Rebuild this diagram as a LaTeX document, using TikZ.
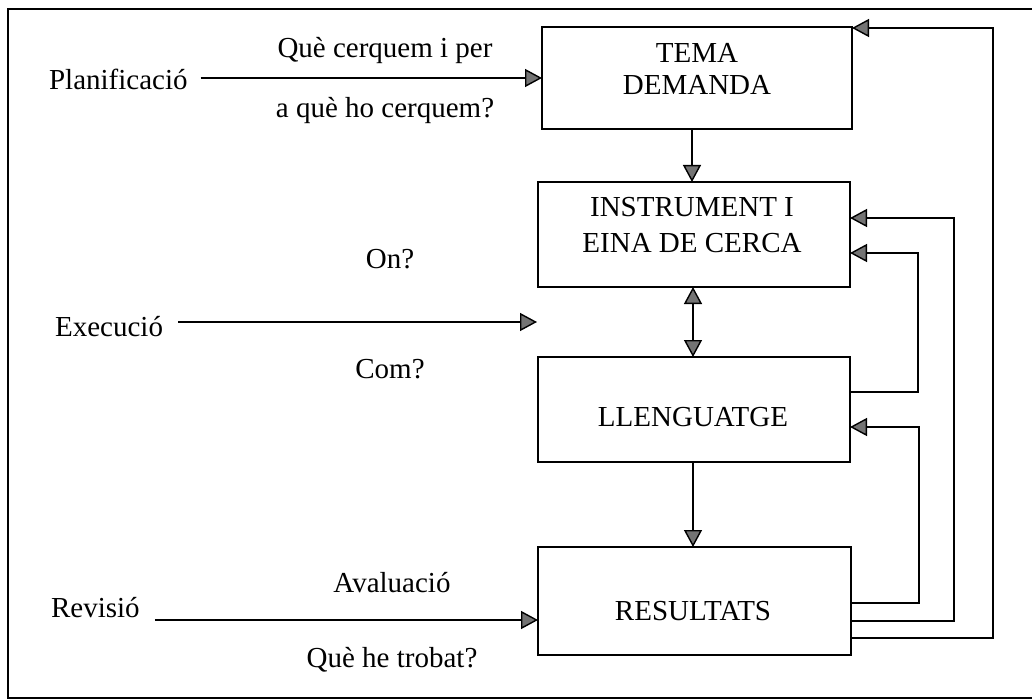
\documentclass[tikz,border=0pt]{standalone}
\usepackage{fontspec}
\setmainfont{Liberation Serif}
\usetikzlibrary{arrows.meta}
\definecolor{tipgray}{gray}{0.45}
\begin{document}
\begin{tikzpicture}[x=1pt,y=-1pt,line width=2.2pt,
  boxnode/.style={draw,inner sep=0pt,outer sep=0pt,line width=2.2pt},
  lab/.style={inner sep=0pt,anchor=base,font=\fontsize{29}{32}\selectfont},
  tip/.style={Triangle[length=17pt,width=18pt,fill=tipgray,line width=1.4pt]},
  arr/.style={-{Triangle[length=17pt,width=18pt,fill=tipgray,line width=1.4pt]}},
  darr/.style={{Triangle[length=17pt,width=18pt,fill=tipgray,line width=1.4pt]}-{Triangle[length=17pt,width=18pt,fill=tipgray,line width=1.4pt]}}]
\useasboundingbox (0,0) rectangle (1032,700);
\draw (1032,9) -- (8,9) -- (8,698) -- (1032,698);
% boxes
\node[boxnode,minimum width=310pt,minimum height=102pt] (tema) at (697,78) {};
\node[boxnode,minimum width=312pt,minimum height=105pt] (instr) at (694,234.5) {};
\node[boxnode,minimum width=312pt,minimum height=105pt] (lleng) at (694,409.5) {};
\node[boxnode,minimum width=313pt,minimum height=108pt] (result) at (694.5,601) {};
% box texts
\node[lab] (t1) at (697,63) {TEMA};
\node[lab] (t2) at (697,95) {DEMANDA};
\node[lab] (i1) at (692,217) {INSTRUMENT I};
\node[lab] (i2) at (692,253) {EINA DE CERCA};
\node[lab] (l1) at (693,426) {LLENGUATGE};
\node[lab] (r1) at (693,620) {RESULTATS};
% left labels
\node[lab,anchor=base west] (plan) at (48,90) {Planificació};
\node[lab,anchor=base west] (exec) at (54,336) {Execució};
\node[lab,anchor=base west] (rev) at (50,617) {Revisió};
% middle labels
\node[lab] (q1) at (385,58) {Què cerquem i per};
\node[lab] (q2) at (385,118) {a què ho cerquem?};
\node[lab] (on) at (390,269) {On?};
\node[lab] (com) at (390,378) {Com?};
\node[lab] (av) at (392,592) {Avaluació};
\node[lab] (qt) at (392,667) {Què he trobat?};
% left arrows
\coordinate (ps) at ([xshift=12pt]plan.east);
\coordinate (es) at ([xshift=14pt]exec.east);
\coordinate (rs) at ([xshift=14pt]rev.east);
\coordinate (ee) at (537,322);
\draw[arr] (ps |- tema.west) -- (tema.west);
\draw[arr] (es |- ee) -- (ee);
\draw[arr] (rs |- 0,620) -- (result.west |- 0,620);
% vertical arrows
\draw[arr] (tema.south -| 692,0) -- (instr.north -| 692,0);
\draw[darr] (instr.south -| 693,0) -- (lleng.north -| 693,0);
\draw[arr] (lleng.south -| 693,0) -- (result.north -| 693,0);
% feedback arrows
\draw[arr] (result.east |- 0,603) -| (919,427) -- (lleng.east |- 0,427);
\draw[arr] (result.east |- 0,621) -| (954,218) -- (instr.east |- 0,218);
\draw[arr] (lleng.east |- 0,392) -| (918,253) -- (instr.east |- 0,253);
\draw[arr] (result.east |- 0,638) -| (993,28) -- (tema.east |- 0,28);
\end{tikzpicture}
\end{document}
